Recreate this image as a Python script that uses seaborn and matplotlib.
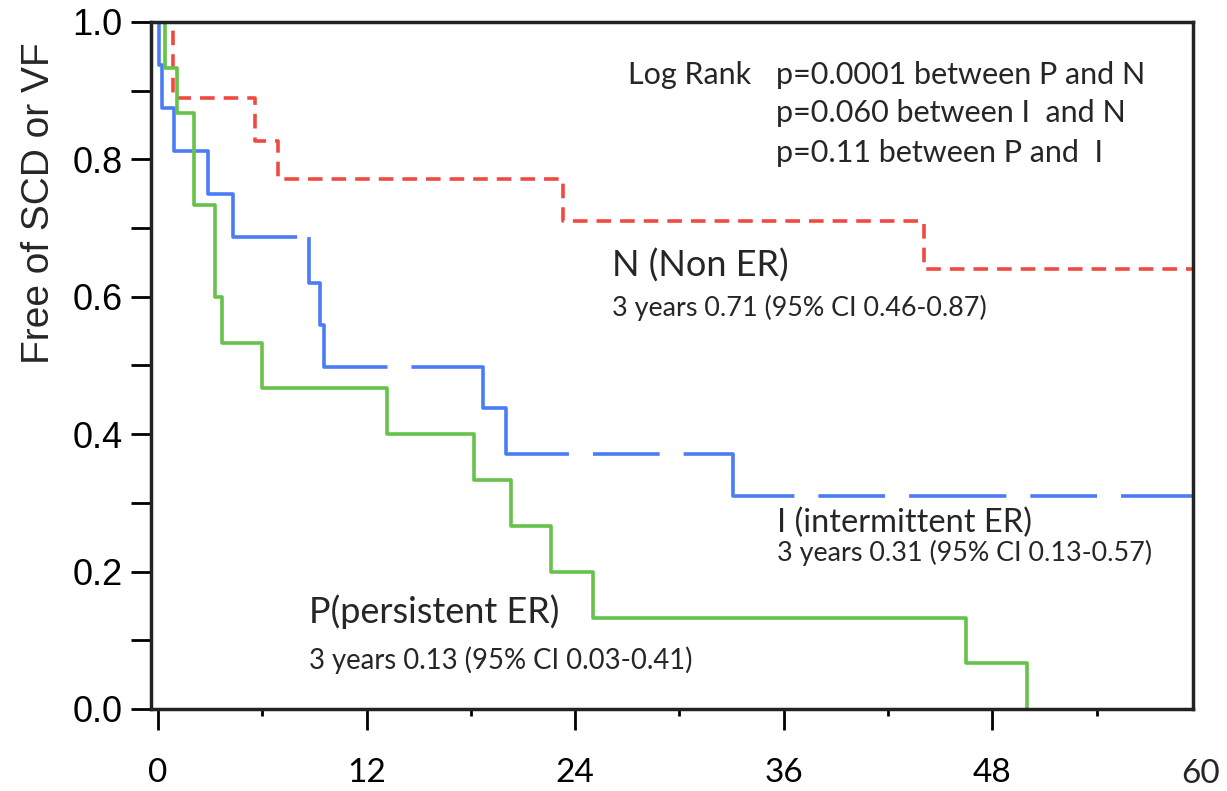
import matplotlib
matplotlib.use("Agg")
import matplotlib.pyplot as plt
import seaborn as sns
import pandas as pd
from matplotlib.ticker import MultipleLocator

# Kaplan-Meier step points (months, fraction free of SCD/VF)
n_time = [0, 0.85, 5.6, 6.9, 23.3, 44.1, 60]
n_surv = [1.0, 0.889, 0.827, 0.771, 0.710, 0.641, 0.641]

i_time = [0, 0.05, 0.25, 0.9, 2.9, 4.3, 8.7, 9.3, 9.55, 18.7, 20.0, 33.1, 60]
i_surv = [1.0, 0.9375, 0.875, 0.8125, 0.75, 0.6875, 0.62, 0.559, 0.498, 0.438, 0.371, 0.31, 0.31]

p_time = [0, 0.4, 1.1, 2.1, 3.3, 3.7, 6.0, 13.2, 18.2, 20.3, 22.6, 25.0, 46.5, 50.0]
p_surv = [1.0, 0.933, 0.867, 0.733, 0.6, 0.533, 0.467, 0.4, 0.333, 0.267, 0.2, 0.133, 0.067, 0.0]

x_ticks = [0, 12, 24, 36, 48]
y_ticks = [0.0, 0.2, 0.4, 0.6, 0.8, 1.0]

log_rank = ["p=0.0001 between P and N",
            "p=0.060 between I  and N",
            "p=0.11 between P and  I"]

sns.set_theme(style="ticks")
plt.rcParams["lines.scale_dashes"] = False
plt.rcParams["font.family"] = ["Lato", "DejaVu Sans"]

fig = plt.figure(figsize=(12.27, 7.91), dpi=100)
ax = fig.add_axes([0.1231, 0.1037, 0.8492, 0.8685])

red, blue, green = "#EF4A41", "#4A7CF6", "#66C24A"
lw = 2.6

df_n = pd.DataFrame({"month": n_time, "surv": n_surv})
df_i = pd.DataFrame({"month": i_time, "surv": i_surv})
df_p = pd.DataFrame({"month": p_time, "surv": p_surv})

sns.lineplot(data=df_n, x="month", y="surv", drawstyle="steps-post", estimator=None,
             sort=False, color=red, lw=lw, linestyle=(0, (10.5, 6.5)), ax=ax)
sns.lineplot(data=df_i, x="month", y="surv", drawstyle="steps-post", estimator=None,
             sort=False, color=blue, lw=lw,
             linestyle=(0, (255, 8.6, 150, 17.3, 176, 17.3, 48, 17.3, 110, 17.3,
                            48, 17.3, 70, 17.3, 48, 17.3, 216, 17.3)), ax=ax)
sns.lineplot(data=df_p, x="month", y="surv", drawstyle="steps-post", estimator=None,
             sort=False, color=green, lw=lw, ax=ax)

ax.set_xlim(-0.4, 59.55)
ax.set_ylim(0, 1.0)
ax.set_xticks(x_ticks)
ax.xaxis.set_minor_locator(MultipleLocator(6))
ax.set_yticks(y_ticks)
ax.set_yticklabels([f"{v:.1f}" for v in y_ticks], family="Liberation Sans", fontsize=26)
ax.yaxis.set_minor_locator(MultipleLocator(0.1))
for lab in ax.get_xticklabels():
    lab.set_fontsize(24)
ax.text(60, -0.095, "60", fontsize=24, ha="center", va="center",
        transform=ax.get_xaxis_transform(), clip_on=False)

ax.tick_params(axis="y", which="both", length=14.5, width=2, direction="out", pad=6, colors="black")
ax.tick_params(axis="x", which="major", length=15, width=2, direction="out", pad=20, colors="black")
ax.tick_params(axis="x", which="minor", length=5, width=2, direction="out", colors="black")
for sp in ax.spines.values():
    sp.set_visible(True)
    sp.set_linewidth(2.5)
    sp.set_color("#222222")

ax.set_xlabel("")
ax.set_ylabel("Free of SCD or VF", family="Liberation Sans", fontsize=28, va="center")
ax.yaxis.set_label_coords(-0.1075, 0.7365)

ax.text(0.458, 0.923, "Log Rank", fontsize=22, ha="left", va="center", transform=ax.transAxes)
for txt, yy in zip(log_rank, [0.923, 0.868, 0.809]):
    ax.text(0.600, yy, txt, fontsize=22, ha="left", va="center", transform=ax.transAxes)

ax.text(0.442, 0.646, "N (Non ER)", fontsize=26, ha="left", va="center", transform=ax.transAxes)
ax.text(0.442, 0.584, "3 years 0.71 (95% CI 0.46-0.87)", fontsize=19.4, ha="left", va="center",
        transform=ax.transAxes)
ax.text(0.601, 0.271, "I (intermittent ER)", fontsize=23.5, ha="left", va="center", transform=ax.transAxes)
ax.text(0.601, 0.227, "3 years 0.31 (95% CI 0.13-0.57)", fontsize=19.4, ha="left", va="center",
        transform=ax.transAxes)
ax.text(0.152, 0.141, "P(persistent ER)", fontsize=26, ha="left", va="center", transform=ax.transAxes)
ax.text(0.152, 0.071, "3 years 0.13 (95% CI 0.03-0.41)", fontsize=19.8, ha="left", va="center",
        transform=ax.transAxes)

fig.savefig("out.png", dpi=100)
